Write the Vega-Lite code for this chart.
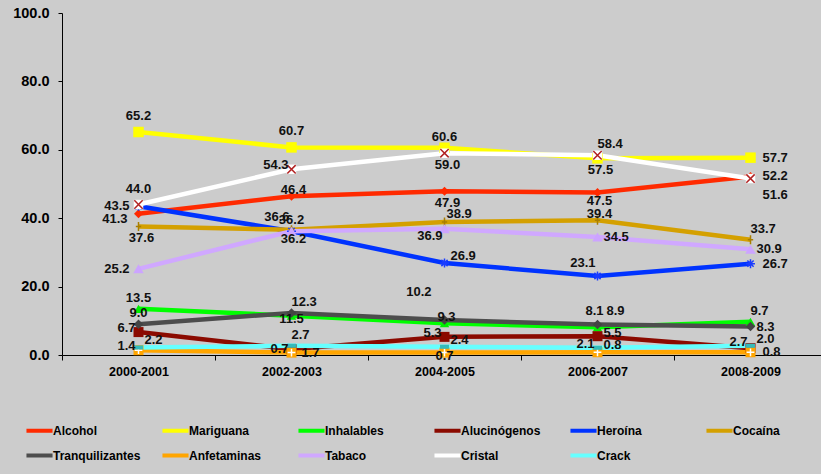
{
  "$schema": "https://vega.github.io/schema/vega-lite/v6.json",
  "autosize": {"type": "none"},
  "width": 759,
  "height": 342,
  "padding": {"left": 62, "top": 13, "right": 0, "bottom": 119},
  "background": "#CCCCCC",
  "config": {
    "view": {"stroke": null},
    "font": "Liberation Sans",
    "axis": {"labelFont": "Liberation Sans", "labelFontWeight": "bold", "labelColor": "#000000", "domainColor": "#000000", "tickColor": "#000000", "grid": false, "title": null},
    "text": {"fontSize": 13, "fontWeight": "bold", "font": "Liberation Sans", "color": "#111111", "baseline": "middle"}
  },
  "data": {"values": [
    {"serie": "Alcohol", "periodo": "2000-2001", "valor": 41.3},
    {"serie": "Alcohol", "periodo": "2002-2003", "valor": 46.4},
    {"serie": "Alcohol", "periodo": "2004-2005", "valor": 47.9},
    {"serie": "Alcohol", "periodo": "2006-2007", "valor": 47.5},
    {"serie": "Alcohol", "periodo": "2008-2009", "valor": 52.2},
    {"serie": "Mariguana", "periodo": "2000-2001", "valor": 65.2},
    {"serie": "Mariguana", "periodo": "2002-2003", "valor": 60.7},
    {"serie": "Mariguana", "periodo": "2004-2005", "valor": 60.6},
    {"serie": "Mariguana", "periodo": "2006-2007", "valor": 57.5},
    {"serie": "Mariguana", "periodo": "2008-2009", "valor": 57.7},
    {"serie": "Inhalables", "periodo": "2000-2001", "valor": 13.5},
    {"serie": "Inhalables", "periodo": "2002-2003", "valor": 11.5},
    {"serie": "Inhalables", "periodo": "2004-2005", "valor": 9.3},
    {"serie": "Inhalables", "periodo": "2006-2007", "valor": 8.1},
    {"serie": "Inhalables", "periodo": "2008-2009", "valor": 9.7},
    {"serie": "Alucinógenos", "periodo": "2000-2001", "valor": 6.7},
    {"serie": "Alucinógenos", "periodo": "2002-2003", "valor": 1.7},
    {"serie": "Alucinógenos", "periodo": "2004-2005", "valor": 5.3},
    {"serie": "Alucinógenos", "periodo": "2006-2007", "valor": 5.5},
    {"serie": "Alucinógenos", "periodo": "2008-2009", "valor": 2.0},
    {"serie": "Heroína", "periodo": "2000-2001", "valor": 43.5},
    {"serie": "Heroína", "periodo": "2002-2003", "valor": 36.2},
    {"serie": "Heroína", "periodo": "2004-2005", "valor": 26.9},
    {"serie": "Heroína", "periodo": "2006-2007", "valor": 23.1},
    {"serie": "Heroína", "periodo": "2008-2009", "valor": 26.7},
    {"serie": "Cocaína", "periodo": "2000-2001", "valor": 37.6},
    {"serie": "Cocaína", "periodo": "2002-2003", "valor": 36.6},
    {"serie": "Cocaína", "periodo": "2004-2005", "valor": 38.9},
    {"serie": "Cocaína", "periodo": "2006-2007", "valor": 39.4},
    {"serie": "Cocaína", "periodo": "2008-2009", "valor": 33.7},
    {"serie": "Tranquilizantes", "periodo": "2000-2001", "valor": 9.0},
    {"serie": "Tranquilizantes", "periodo": "2002-2003", "valor": 12.3},
    {"serie": "Tranquilizantes", "periodo": "2004-2005", "valor": 10.2},
    {"serie": "Tranquilizantes", "periodo": "2006-2007", "valor": 8.9},
    {"serie": "Tranquilizantes", "periodo": "2008-2009", "valor": 8.3},
    {"serie": "Anfetaminas", "periodo": "2000-2001", "valor": 1.4},
    {"serie": "Anfetaminas", "periodo": "2002-2003", "valor": 0.7},
    {"serie": "Anfetaminas", "periodo": "2004-2005", "valor": 0.7},
    {"serie": "Anfetaminas", "periodo": "2006-2007", "valor": 0.8},
    {"serie": "Anfetaminas", "periodo": "2008-2009", "valor": 0.8},
    {"serie": "Tabaco", "periodo": "2000-2001", "valor": 25.2},
    {"serie": "Tabaco", "periodo": "2002-2003", "valor": 36.2},
    {"serie": "Tabaco", "periodo": "2004-2005", "valor": 36.9},
    {"serie": "Tabaco", "periodo": "2006-2007", "valor": 34.5},
    {"serie": "Tabaco", "periodo": "2008-2009", "valor": 30.9},
    {"serie": "Cristal", "periodo": "2000-2001", "valor": 44.0},
    {"serie": "Cristal", "periodo": "2002-2003", "valor": 54.3},
    {"serie": "Cristal", "periodo": "2004-2005", "valor": 59.0},
    {"serie": "Cristal", "periodo": "2006-2007", "valor": 58.4},
    {"serie": "Cristal", "periodo": "2008-2009", "valor": 51.6},
    {"serie": "Crack", "periodo": "2000-2001", "valor": 2.2},
    {"serie": "Crack", "periodo": "2002-2003", "valor": 2.7},
    {"serie": "Crack", "periodo": "2004-2005", "valor": 2.4},
    {"serie": "Crack", "periodo": "2006-2007", "valor": 2.1},
    {"serie": "Crack", "periodo": "2008-2009", "valor": 2.7}
  ]},
  "encoding": {
    "x": {"field": "periodo", "type": "nominal", "sort": ["2000-2001", "2002-2003", "2004-2005", "2006-2007", "2008-2009"],
      "scale": {"range": [0, 765], "paddingInner": 0, "paddingOuter": 0},
      "axis": {"labelAngle": 0, "labelFontSize": 12.5, "tickBand": "extent", "tickSize": 5, "labelPadding": 5, "domainWidth": 1}},
    "y": {"field": "valor", "type": "quantitative", "scale": {"domain": [0, 100], "nice": false},
      "axis": {"values": [0, 20, 40, 60, 80, 100], "format": ".1f", "labelFontSize": 14.5, "tickSize": 4, "labelPadding": 9}}
  },
  "layer": [
    {
      "mark": {"type": "line", "strokeWidth": 4.5},
      "encoding": {
        "color": {"field": "serie", "type": "nominal",
          "scale": {"domain": ["Alcohol", "Mariguana", "Inhalables", "Alucinógenos", "Heroína", "Cocaína", "Tranquilizantes", "Anfetaminas", "Tabaco", "Cristal", "Crack"],
            "range": ["#FF2A00", "#FFFF00", "#00FF00", "#8B0A00", "#0033FF", "#D4A000", "#4D4D4D", "#FFA500", "#D0A8FF", "#FFFFFF", "#66FFFF"]},
          "legend": {"title": null, "orient": "none", "legendX": -38, "legendY": 402, "direction": "horizontal", "columns": 6, "gridAlign": "all", "columnPadding": 13, "rowPadding": 1, "padding": 0,
            "symbolType": "stroke", "symbolSize": 680, "symbolStrokeWidth": 4, "labelFont": "Liberation Sans", "labelFontWeight": "bold", "labelFontSize": 12, "labelColor": "#000000", "labelOffset": -2, "labelLimit": 200}}
      }
    },
    {"transform": [{"filter": "datum.serie == 'Alcohol'"}], "mark": {"type": "point", "shape": "diamond", "filled": true, "size": 80, "fill": "#FF2A00", "opacity": 1}, "encoding": {}},
    {"transform": [{"filter": "datum.serie == 'Mariguana'"}], "mark": {"type": "point", "shape": "square", "filled": true, "size": 110, "fill": "#FFFF00", "opacity": 1}, "encoding": {}},
    {"transform": [{"filter": "datum.serie == 'Inhalables'"}], "mark": {"type": "point", "shape": "triangle-up", "filled": true, "size": 90, "fill": "#00EE00", "opacity": 1}, "encoding": {}},
    {"transform": [{"filter": "datum.serie == 'Alucinógenos'"}], "mark": {"type": "point", "shape": "square", "filled": true, "size": 100, "fill": "#8B0A00", "opacity": 1}, "encoding": {}},
    {"transform": [{"filter": "datum.serie == 'Heroína'"}], "mark": {"type": "point", "shape": "M-1,0L1,0M0,-1L0,1M-0.7,-0.7L0.7,0.7M-0.7,0.7L0.7,-0.7", "filled": false, "size": 80, "stroke": "#1A3CFF", "strokeWidth": 1.5, "opacity": 1}, "encoding": {}},
    {"transform": [{"filter": "datum.serie == 'Cocaína'"}], "mark": {"type": "point", "shape": "M0,-1L0,1M-0.6,0L0.6,0", "filled": false, "size": 80, "stroke": "#A87E00", "strokeWidth": 1.5, "opacity": 1}, "encoding": {}},
    {"transform": [{"filter": "datum.serie == 'Tranquilizantes'"}], "mark": {"type": "point", "shape": "diamond", "filled": true, "size": 90, "fill": "#444444", "opacity": 1}, "encoding": {}},
    {"transform": [{"filter": "datum.serie == 'Anfetaminas'"}], "mark": {"type": "point", "shape": "square", "filled": true, "size": 100, "fill": "#FFA500", "opacity": 1}, "encoding": {}},
    {"transform": [{"filter": "datum.serie == 'Anfetaminas'"}], "mark": {"type": "point", "shape": "M-1,0L1,0M0,-1L0,1", "filled": false, "size": 60, "stroke": "#FFFFFF", "strokeWidth": 1.5, "opacity": 1}, "encoding": {}},
    {"transform": [{"filter": "datum.serie == 'Tabaco'"}], "mark": {"type": "point", "shape": "triangle-up", "filled": true, "size": 110, "fill": "#CCA4FF", "opacity": 1}, "encoding": {}},
    {"transform": [{"filter": "datum.serie == 'Cristal'"}], "mark": {"type": "point", "shape": "square", "filled": true, "size": 90, "fill": "#FFFFFF", "opacity": 1}, "encoding": {}},
    {"transform": [{"filter": "datum.serie == 'Cristal'"}], "mark": {"type": "point", "shape": "M-1,-1L1,1M-1,1L1,-1", "filled": false, "size": 70, "stroke": "#B22222", "strokeWidth": 1.5, "opacity": 1}, "encoding": {}},
    {"transform": [{"filter": "datum.serie == 'Crack'"}], "mark": {"type": "point", "shape": "M-1,-0.45L1,-0.45L1,0.45L-1,0.45Z", "filled": true, "size": 80, "fill": "#33BBBB", "opacity": 1}, "encoding": {}},
    {
      "transform": [{"filter": "indexof(['Mariguana|2000-2001','Mariguana|2002-2003','Cristal|2000-2001'], datum.serie + '|' + datum.periodo) >= 0"}],
      "mark": {"type": "text", "align": "center", "dy": -16},
      "encoding": {"text": {"field": "valor", "type": "quantitative", "format": ".1f"}}
    },
    {
      "transform": [{"filter": "indexof(['Inhalables|2006-2007'], datum.serie + '|' + datum.periodo) >= 0"}],
      "mark": {"type": "text", "align": "center", "dx": -3, "dy": -16},
      "encoding": {"text": {"field": "valor", "type": "quantitative", "format": ".1f"}}
    },
    {
      "transform": [{"filter": "indexof(['Inhalables|2000-2001','Tranquilizantes|2000-2001','Mariguana|2004-2005','Heroína|2002-2003'], datum.serie + '|' + datum.periodo) >= 0"}],
      "mark": {"type": "text", "align": "center", "dy": -11},
      "encoding": {"text": {"field": "valor", "type": "quantitative", "format": ".1f"}}
    },
    {
      "transform": [{"filter": "indexof(['Alcohol|2002-2003','Cocaína|2006-2007','Inhalables|2004-2005'], datum.serie + '|' + datum.periodo) >= 0"}],
      "mark": {"type": "text", "align": "center", "dx": 2, "dy": -6},
      "encoding": {"text": {"field": "valor", "type": "quantitative", "format": ".1f"}}
    },
    {
      "transform": [{"filter": "indexof(['Cristal|2004-2005','Alcohol|2004-2005','Mariguana|2006-2007','Cocaína|2000-2001'], datum.serie + '|' + datum.periodo) >= 0"}],
      "mark": {"type": "text", "align": "center", "dx": 3, "dy": 12},
      "encoding": {"text": {"field": "valor", "type": "quantitative", "format": ".1f"}}
    },
    {
      "transform": [{"filter": "indexof(['Alcohol|2006-2007','Tabaco|2002-2003'], datum.serie + '|' + datum.periodo) >= 0"}],
      "mark": {"type": "text", "align": "center", "dx": 2, "dy": 8},
      "encoding": {"text": {"field": "valor", "type": "quantitative", "format": ".1f"}}
    },
    {
      "transform": [{"filter": "indexof(['Inhalables|2002-2003','Anfetaminas|2004-2005'], datum.serie + '|' + datum.periodo) >= 0"}],
      "mark": {"type": "text", "align": "center", "dy": 3},
      "encoding": {"text": {"field": "valor", "type": "quantitative", "format": ".1f"}}
    },
    {
      "transform": [{"filter": "indexof(['Heroína|2000-2001','Tabaco|2000-2001'], datum.serie + '|' + datum.periodo) >= 0"}],
      "mark": {"type": "text", "align": "right", "dx": -9, "dy": 0},
      "encoding": {"text": {"field": "valor", "type": "quantitative", "format": ".1f"}}
    },
    {
      "transform": [{"filter": "indexof(['Alcohol|2000-2001'], datum.serie + '|' + datum.periodo) >= 0"}],
      "mark": {"type": "text", "align": "right", "dx": -11, "dy": 5},
      "encoding": {"text": {"field": "valor", "type": "quantitative", "format": ".1f"}}
    },
    {
      "transform": [{"filter": "indexof(['Alucinógenos|2000-2001','Anfetaminas|2000-2001','Cristal|2002-2003','Anfetaminas|2002-2003','Alucinógenos|2004-2005','Crack|2006-2007','Crack|2008-2009'], datum.serie + '|' + datum.periodo) >= 0"}],
      "mark": {"type": "text", "align": "right", "dx": -3, "dy": -4},
      "encoding": {"text": {"field": "valor", "type": "quantitative", "format": ".1f"}}
    },
    {
      "transform": [{"filter": "indexof(['Heroína|2004-2005','Anfetaminas|2006-2007','Crack|2000-2001','Crack|2004-2005'], datum.serie + '|' + datum.periodo) >= 0"}],
      "mark": {"type": "text", "align": "left", "dx": 6, "dy": -7},
      "encoding": {"text": {"field": "valor", "type": "quantitative", "format": ".1f"}}
    },
    {
      "transform": [{"filter": "indexof(['Alucinógenos|2008-2009'], datum.serie + '|' + datum.periodo) >= 0"}],
      "mark": {"type": "text", "align": "left", "dx": 6, "dy": -9},
      "encoding": {"text": {"field": "valor", "type": "quantitative", "format": ".1f"}}
    },
    {
      "transform": [{"filter": "indexof(['Tabaco|2006-2007','Tabaco|2008-2009','Tranquilizantes|2008-2009'], datum.serie + '|' + datum.periodo) >= 0"}],
      "mark": {"type": "text", "align": "left", "dx": 6, "dy": 0},
      "encoding": {"text": {"field": "valor", "type": "quantitative", "format": ".1f"}}
    },
    {
      "transform": [{"filter": "indexof(['Alucinógenos|2006-2007'], datum.serie + '|' + datum.periodo) >= 0"}],
      "mark": {"type": "text", "align": "left", "dx": 6, "dy": -3},
      "encoding": {"text": {"field": "valor", "type": "quantitative", "format": ".1f"}}
    },
    {
      "transform": [{"filter": "indexof(['Mariguana|2008-2009','Alcohol|2008-2009','Heroína|2008-2009','Anfetaminas|2008-2009'], datum.serie + '|' + datum.periodo) >= 0"}],
      "mark": {"type": "text", "align": "left", "dx": 12, "dy": 0},
      "encoding": {"text": {"field": "valor", "type": "quantitative", "format": ".1f"}}
    },
    {
      "transform": [{"filter": "indexof(['Alucinógenos|2002-2003'], datum.serie + '|' + datum.periodo) >= 0"}],
      "mark": {"type": "text", "align": "left", "dx": 10, "dy": 4},
      "encoding": {"text": {"field": "valor", "type": "quantitative", "format": ".1f"}}
    },
    {
      "transform": [{"filter": "indexof(['Cristal|2006-2007','Tranquilizantes|2002-2003','Cocaína|2008-2009','Inhalables|2008-2009','Crack|2002-2003'], datum.serie + '|' + datum.periodo) >= 0"}],
      "mark": {"type": "text", "align": "left", "dx": 0, "dy": -11},
      "encoding": {"text": {"field": "valor", "type": "quantitative", "format": ".1f"}}
    },
    {
      "transform": [{"filter": "indexof(['Cocaína|2004-2005'], datum.serie + '|' + datum.periodo) >= 0"}],
      "mark": {"type": "text", "align": "left", "dx": 2, "dy": -8},
      "encoding": {"text": {"field": "valor", "type": "quantitative", "format": ".1f"}}
    },
    {
      "transform": [{"filter": "indexof(['Tranquilizantes|2006-2007'], datum.serie + '|' + datum.periodo) >= 0"}],
      "mark": {"type": "text", "align": "left", "dx": 9, "dy": -14},
      "encoding": {"text": {"field": "valor", "type": "quantitative", "format": ".1f"}}
    },
    {
      "transform": [{"filter": "indexof(['Cocaína|2002-2003','Heroína|2006-2007'], datum.serie + '|' + datum.periodo) >= 0"}],
      "mark": {"type": "text", "align": "right", "dx": -2, "dy": -13},
      "encoding": {"text": {"field": "valor", "type": "quantitative", "format": ".1f"}}
    },
    {
      "transform": [{"filter": "indexof(['Tranquilizantes|2004-2005'], datum.serie + '|' + datum.periodo) >= 0"}],
      "mark": {"type": "text", "align": "right", "dx": -13, "dy": -28},
      "encoding": {"text": {"field": "valor", "type": "quantitative", "format": ".1f"}}
    },
    {
      "transform": [{"filter": "indexof(['Tabaco|2004-2005'], datum.serie + '|' + datum.periodo) >= 0"}],
      "mark": {"type": "text", "align": "right", "dx": -2, "dy": 7},
      "encoding": {"text": {"field": "valor", "type": "quantitative", "format": ".1f"}}
    },
    {
      "transform": [{"filter": "indexof(['Cristal|2008-2009'], datum.serie + '|' + datum.periodo) >= 0"}],
      "mark": {"type": "text", "align": "left", "dx": 12, "dy": 16},
      "encoding": {"text": {"field": "valor", "type": "quantitative", "format": ".1f"}}
    }
  ]
}
